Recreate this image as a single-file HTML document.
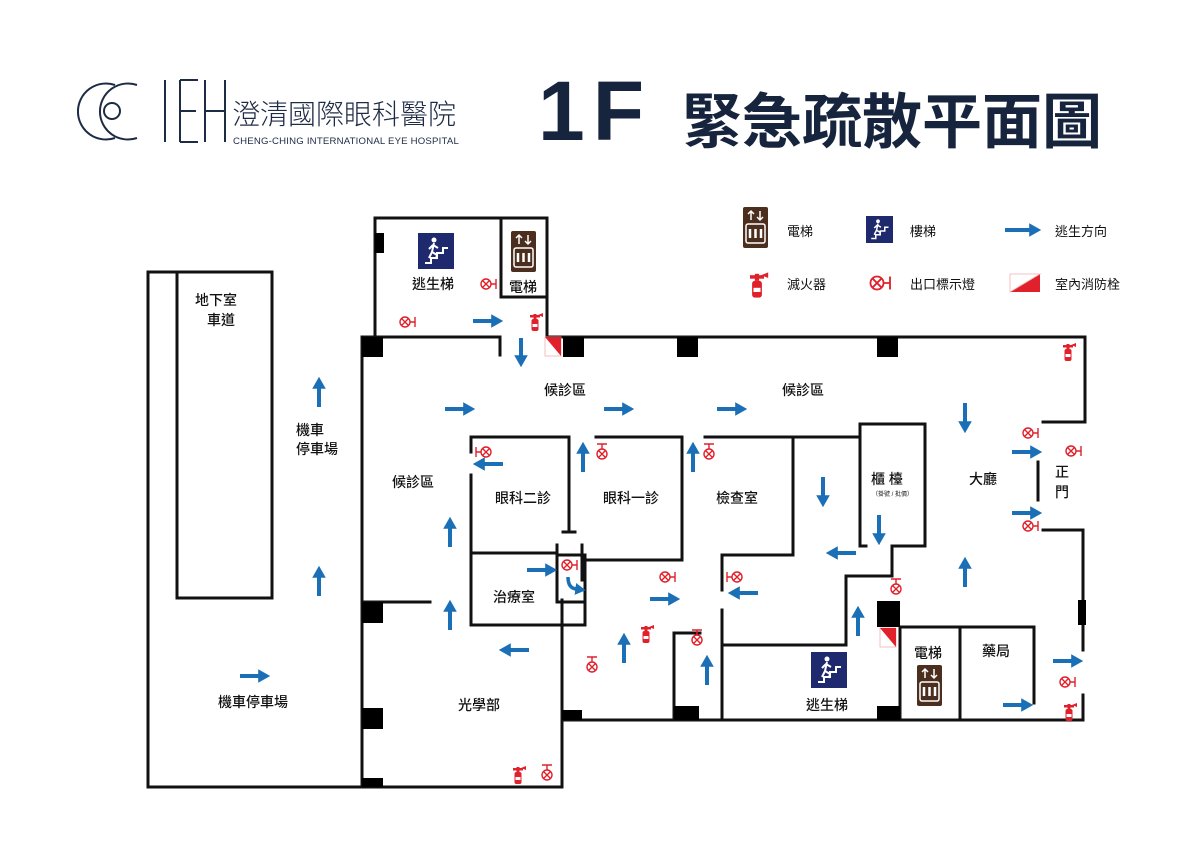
<!DOCTYPE html>
<html><head><meta charset="utf-8"><style>
html,body{margin:0;padding:0;background:#fff;}
svg{display:block;}
text{font-family:"Liberation Sans","Noto Sans CJK TC",sans-serif;fill:#111;}
</style></head><body>
<svg width="1200" height="850" viewBox="0 0 1200 850" xmlns="http://www.w3.org/2000/svg">
<defs>
<marker id="ah" markerWidth="3" markerHeight="3.4" refX="0.2" refY="1.7" orient="auto" markerUnits="strokeWidth">
<path d="M0,0 L3,1.7 L0,3.4 z" fill="#1b6fb6"/></marker>
<g id="exH" stroke="#e0202a" stroke-width="1.4" fill="none"><circle cx="0" cy="0" r="5"/><path d="M-3.5,-3.5L3.5,3.5M3.5,-3.5L-3.5,3.5M5,0H10M10,-5V5"/></g>
<g id="exV" stroke="#e0202a" stroke-width="1.4" fill="none"><circle cx="0" cy="0" r="5"/><path d="M-3.5,-3.5L3.5,3.5M3.5,-3.5L-3.5,3.5M0,-5V-10M-5,-10H5"/></g>
<g id="fx" fill="#e0202a"><rect x="-3.5" y="-3" width="7" height="12" rx="2"/><rect x="-5" y="-7" width="10" height="2.5"/><rect x="-1.5" y="-8" width="3" height="5"/><path d="M3,-7 L8,-9 L8,-5 z"/><rect x="-2.5" y="2" width="5" height="3" fill="#fff"/></g>
<g id="elev"><rect x="0" y="0" width="25" height="41" rx="2" fill="#4b2e1e"/><rect x="3" y="17" width="19" height="19" rx="2" fill="none" stroke="#fff" stroke-width="1.5"/><path d="M8,13V4M5,7L8,4L11,7M17,4V13M14,10L17,13L20,10" stroke="#fff" stroke-width="1.5" fill="none"/><path d="M7,22v9M12.5,22v9M18,22v9" stroke="#fff" stroke-width="2.5"/></g>
<g id="stair"><rect x="0" y="0" width="36" height="36" fill="#1f2a6e"/><path d="M7,30H13V25H19V20H25V15H30" stroke="#fff" stroke-width="2" fill="none"/><circle cx="16" cy="7" r="2.5" fill="#fff"/><path d="M16,10L14,19L11,25M14,19L19,22L18,26M15,12L20,15M15,12L11,16" stroke="#fff" stroke-width="2" fill="none"/></g>
<g id="hyd"><rect x="0" y="0" width="16" height="19" fill="#fff" stroke="#f2b0b0" stroke-width="0.8"/><path d="M0,0H16V19z" fill="#e0202a"/></g>
</defs>

<!-- logo -->
<g fill="none" stroke="#1e2b45" stroke-width="2">
<path d="M115,85 A28,28 0 1 0 115,138"/>
<path d="M137,85 A28,28 0 1 0 137,138"/>
<circle cx="112" cy="111" r="8"/>
<path d="M165,80V142M180,80V142M180,80H198M180,111H196M180,142H198M205,80V142M225,80V142M205,111H225"/>
</g>
<text x="232" y="124" font-size="28" style="font-weight:300;fill:#1e2b45">澄清國際眼科醫院</text>
<text x="233" y="144" font-size="9.6" style="fill:#1e2b45;letter-spacing:0.2px">CHENG-CHING INTERNATIONAL EYE HOSPITAL</text>

<text x="538" y="140" font-size="84" font-weight="bold" style="fill:#16243d;letter-spacing:8px">1F</text>
<text x="682" y="143" font-size="60" font-weight="bold" style="fill:#16243d">緊急疏散平面圖</text>

<!-- legend -->
<use href="#elev" x="743" y="207"/><text x="787" y="236" font-size="13">電梯</text>
<use href="#stair" x="866" y="216" transform="translate(866 216) scale(0.75) translate(-866 -216)"/><text x="910" y="236" font-size="13">樓梯</text>
<line x1="1005" y1="230" x2="1030" y2="230" stroke="#1b6fb6" stroke-width="4" marker-end="url(#ah)"/><text x="1055" y="236" font-size="13">逃生方向</text>
<use href="#fx" x="757" y="285" transform="translate(757 285) scale(1.4) translate(-757 -285)"/><text x="787" y="289" font-size="13">滅火器</text>
<use href="#exH" x="877" y="283" transform="translate(877 283) scale(1.3) translate(-877 -283)"/><text x="910" y="289" font-size="13">出口標示燈</text>
<path d="M1010,292 L1040,274 V292z" fill="#e0202a"/><path d="M1010,274H1040L1010,292z" fill="#fff" stroke="#f2b0b0" stroke-width="0.8"/><text x="1055" y="289" font-size="13">室內消防栓</text>

<!-- walls -->
<g stroke="#111" stroke-width="3" fill="none" stroke-linecap="square">
<path d="M148,787V272H272V598H177V272"/>
<path d="M148,787H362V337"/>
<path d="M362,337H500V355"/>
<path d="M375,337V218H547V337H1085V422H1043"/>
<path d="M501,218V297H547"/>
<path d="M1038,462V500"/>
<path d="M1043,530H1083V650M1083,695V720H562V787H362"/>
<path d="M362,602H430"/>
<path d="M562,600V720"/>
<path d="M471,452V437H569V532M563,532H575"/>
<path d="M471,475V625H585V555H557V545"/>
<path d="M471,553H555"/>
<path d="M557,553V602H585"/>
<path d="M582,545V580M582,560H682V437H596"/>
<path d="M705,437H860M793,437V555H722V590M722,610V720"/>
<path d="M722,645H846V576H892V546H925V424H860V546H866"/>
<path d="M674,720V633H700"/>
<path d="M900,627V720M900,627H1034V703M960,627V720"/>
</g>
<g fill="#000">
<rect x="362" y="337" width="21" height="20"/><rect x="375" y="233" width="9" height="20"/>
<rect x="563" y="337" width="21" height="20"/><rect x="677" y="337" width="21" height="20"/><rect x="877" y="337" width="21" height="20"/>
<rect x="362" y="602" width="21" height="21"/><rect x="362" y="708" width="21" height="21"/><rect x="362" y="778" width="21" height="9"/>
<rect x="562" y="710" width="20" height="10"/><rect x="674" y="706" width="25" height="14"/>
<rect x="877" y="601" width="23" height="26"/><rect x="877" y="706" width="23" height="14"/>
<rect x="1078" y="600" width="8" height="25"/>
</g>
<use href="#hyd" x="545" y="337"/>
<use href="#hyd" x="880" y="628"/>

<use href="#stair" x="418" y="233"/>
<use href="#elev" x="511" y="231"/>
<use href="#stair" x="811" y="652"/>
<use href="#elev" x="917" y="665"/>

<g font-size="14" style="font-weight:500">
<text x="195" y="305">地下室</text><text x="207" y="325">車道</text>
<text x="296" y="435">機車</text><text x="296" y="454">停車場</text>
<text x="218" y="707">機車停車場</text>
<text x="412" y="289">逃生梯</text><text x="509" y="292">電梯</text>
<text x="544" y="395">候診區</text><text x="782" y="395">候診區</text>
<text x="392" y="487">候診區</text>
<text x="495" y="503">眼科二診</text><text x="603" y="503">眼科一診</text><text x="716" y="503">檢查室</text>
<text x="493" y="602">治療室</text><text x="458" y="710">光學部</text>
<text x="871" y="484">櫃 檯</text><text x="969" y="484">大廳</text>
<text x="1055" y="477">正</text><text x="1055" y="497">門</text>
<text x="806" y="710">逃生梯</text><text x="914" y="658">電梯</text><text x="982" y="656">藥局</text>
</g>
<text x="872" y="496" font-size="6">（掛號 / 批價）</text>

<g stroke="#1b6fb6" stroke-width="4" marker-end="url(#ah)">
<line x1="473" y1="321" x2="492" y2="321"/>
<line x1="521" y1="338" x2="521" y2="356"/>
<line x1="445" y1="409" x2="464" y2="409"/>
<line x1="604" y1="409" x2="623" y2="409"/>
<line x1="717" y1="409" x2="736" y2="409"/>
<line x1="965" y1="403" x2="965" y2="422"/>
<line x1="1012" y1="452" x2="1031" y2="452"/>
<line x1="1012" y1="513" x2="1031" y2="513"/>
<line x1="965" y1="587" x2="965" y2="568"/>
<line x1="823" y1="477" x2="823" y2="496"/>
<line x1="879" y1="515" x2="879" y2="534"/>
<line x1="856" y1="553" x2="837" y2="553"/>
<line x1="503" y1="464" x2="484" y2="464"/>
<line x1="583" y1="472" x2="583" y2="453"/>
<line x1="693" y1="472" x2="693" y2="453"/>
<line x1="450" y1="547" x2="450" y2="528"/>
<line x1="319" y1="407" x2="319" y2="388"/>
<line x1="319" y1="596" x2="319" y2="577"/>
<line x1="450" y1="630" x2="450" y2="611"/>
<line x1="529" y1="650" x2="510" y2="650"/>
<line x1="527" y1="570" x2="546" y2="570"/>
<line x1="650" y1="599" x2="669" y2="599"/>
<line x1="758" y1="593" x2="739" y2="593"/>
<line x1="624" y1="663" x2="624" y2="644"/>
<line x1="707" y1="685" x2="707" y2="666"/>
<line x1="858" y1="636" x2="858" y2="617"/>
<line x1="1053" y1="661" x2="1072" y2="661"/>
<line x1="1003" y1="705" x2="1022" y2="705"/>
<line x1="240" y1="676" x2="259" y2="676"/>
<path d="M568,577 Q568,588 576,589" fill="none" stroke-width="3.5"/>
</g>

<use href="#exH" x="486" y="284"/><use href="#exH" x="405" y="322"/>
<use href="#exV" x="602" y="454"/><use href="#exV" x="709" y="454"/>
<use href="#exH" x="-486" y="452" transform="scale(-1 1)"/>
<use href="#exH" x="1028" y="433"/><use href="#exH" x="1071" y="451"/>
<use href="#exH" x="1028" y="526"/>
<use href="#exH" x="567" y="565"/>
<use href="#exH" x="665" y="577"/>
<use href="#exH" x="-737" y="577" transform="scale(-1 1)"/>
<use href="#exV" x="896" y="589"/>
<use href="#exV" x="697" y="640"/>
<use href="#exV" x="592" y="667"/>
<use href="#exV" x="547" y="775"/>
<use href="#exH" x="1065" y="682"/>
<use href="#fx" x="535" y="322"/><use href="#fx" x="1068" y="352"/>
<use href="#fx" x="646" y="634"/><use href="#fx" x="518" y="775"/>
<use href="#fx" x="1069" y="712"/>
</svg>
</body></html>
